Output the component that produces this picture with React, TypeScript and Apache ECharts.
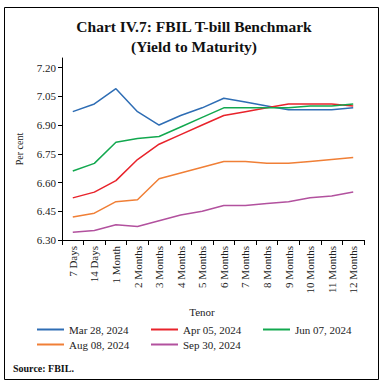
import React, { useEffect, useRef } from "react";
import * as echarts from "echarts";

const categories = [
  "7 Days", "14 Days", "1 Month", "2 Months", "3 Months", "4 Months", "5 Months",
  "6 Months", "7 Months", "8 Months", "9 Months", "10 Months", "11 Months", "12 Months",
];

const mar28 = [6.97, 7.01, 7.09, 6.97, 6.90, 6.95, 6.99, 7.04, 7.02, 7.00, 6.98, 6.98, 6.98, 6.99];
const apr05 = [6.52, 6.55, 6.61, 6.72, 6.80, 6.85, 6.90, 6.95, 6.97, 6.99, 7.01, 7.01, 7.01, 7.00];
const jun07 = [6.66, 6.70, 6.81, 6.83, 6.84, 6.89, 6.94, 6.99, 6.99, 6.99, 6.99, 7.00, 7.00, 7.01];
const aug08 = [6.42, 6.44, 6.50, 6.51, 6.62, 6.65, 6.68, 6.71, 6.71, 6.70, 6.70, 6.71, 6.72, 6.73];
const sep30 = [6.34, 6.35, 6.38, 6.37, 6.40, 6.43, 6.45, 6.48, 6.48, 6.49, 6.50, 6.52, 6.53, 6.55];

const yTicks = [6.3, 6.45, 6.6, 6.75, 6.9, 7.05, 7.2];

const seriesDefs = [
  { name: "Mar 28, 2024", data: mar28, color: "#2E6DB4" },
  { name: "Apr 05, 2024", data: apr05, color: "#E8232B" },
  { name: "Jun 07, 2024", data: jun07, color: "#12A84F" },
  { name: "Aug 08, 2024", data: aug08, color: "#F07F36" },
  { name: "Sep 30, 2024", data: sep30, color: "#B2519E" },
];

const legendPos = [
  { left: 37, top: 324 },
  { left: 151, top: 324 },
  { left: 263, top: 324 },
  { left: 37, top: 339 },
  { left: 151, top: 339 },
];

const FONT = "'Liberation Serif', serif";

export default function App() {
  const ref = useRef<HTMLDivElement>(null);
  useEffect(() => {
    if (!ref.current) return;
    const chart = echarts.init(ref.current, null, { renderer: "svg" });
    chart.setOption({
      animation: false,
      backgroundColor: "#ffffff",
      textStyle: { fontFamily: FONT },
      title: {
        text: "Chart IV.7: FBIL T-bill Benchmark\n(Yield to Maturity)",
        left: 189,
        top: 11,
        textAlign: "center",
        textStyle: {
          fontFamily: FONT,
          fontWeight: "bold",
          fontSize: 15.5,
          lineHeight: 20,
          color: "#111",
        },
      },
      legend: seriesDefs.map((s, i) => ({
        data: [s.name],
        left: legendPos[i].left,
        top: legendPos[i].top,
        padding: 0,
        icon: "rect",
        itemWidth: 27,
        itemHeight: 2,
        textStyle: { fontFamily: FONT, fontSize: 11, color: "#222" },
      })),
      grid: { left: 62, right: 19, top: 58, bottom: 146, containLabel: false },
      xAxis: {
        type: "category",
        data: categories,
        boundaryGap: true,
        axisLine: { lineStyle: { color: "#000", width: 1 } },
        axisTick: { show: true, alignWithLabel: false, length: 5, lineStyle: { color: "#000" } },
        axisLabel: {
          rotate: 90,
          interval: 0,
          fontFamily: FONT,
          fontSize: 11,
          color: "#222",
          margin: 6,
        },
      },
      yAxis: {
        type: "value",
        min: 6.3,
        max: 7.25,
        name: "Per cent",
        nameLocation: "middle",
        nameGap: 38,
        nameRotate: 90,
        nameTextStyle: { fontFamily: FONT, fontSize: 10, color: "#222" },
        splitLine: { show: false },
        axisLine: { show: true, lineStyle: { color: "#000", width: 1 } },
        axisTick: { show: true, length: 4, lineStyle: { color: "#000" }, customValues: yTicks },
        axisLabel: {
          fontFamily: FONT,
          fontSize: 11,
          color: "#222",
          margin: 6,
          customValues: yTicks,
          formatter: (v: number) => v.toFixed(2),
        },
      },
      graphic: [
        {
          type: "rect",
          shape: { x: 4.5, y: 7.5, width: 374, height: 372 },
          style: { fill: "none", stroke: "#000", lineWidth: 1 },
          silent: true,
        },
        {
          type: "text",
          x: 202,
          y: 312,
          style: {
            text: "Tenor",
            fontFamily: FONT,
            fontSize: 11,
            fill: "#222",
            textAlign: "center",
            textVerticalAlign: "middle",
          },
        },
        {
          type: "text",
          x: 13,
          y: 368,
          style: {
            text: "Source: FBIL.",
            fontFamily: FONT,
            fontSize: 10,
            fontWeight: "bold",
            fill: "#111",
            textAlign: "left",
            textVerticalAlign: "middle",
          },
        },
      ],
      series: seriesDefs.map((s) => ({
        name: s.name,
        type: "line",
        data: s.data,
        symbol: "none",
        showSymbol: false,
        lineStyle: { color: s.color, width: 1.5 },
        itemStyle: { color: s.color },
      })),
    });
    return () => chart.dispose();
  }, []);
  return <div ref={ref} style={{ width: 383, height: 386, position: "absolute", left: 0, top: 0 }} />;
}
